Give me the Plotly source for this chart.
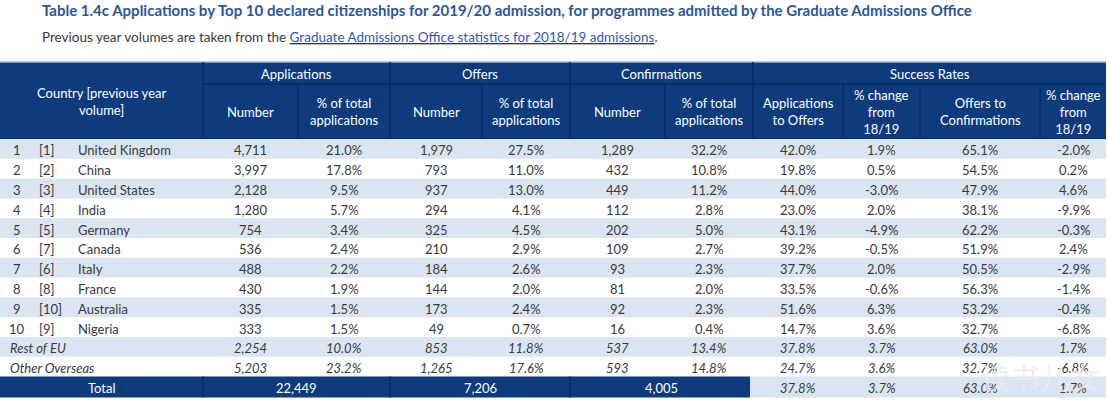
import plotly.graph_objects as go

W, H = 1108, 406

title = "Table 1.4c Applications by Top 10 declared citizenships for 2019/20 admission, for programmes admitted by the Graduate Admissions Office"
subtitle_pre = "Previous year volumes are taken from the "
subtitle_link = "Graduate Admissions Office statistics for 2018/19 admissions"

groups = ["Applications", "Offers", "Confirmations", "Success Rates"]
subheaders = ["Number", "% of total<br>applications", "Number", "% of total<br>applications",
              "Number", "% of total<br>applications", "Applications<br>to Offers",
              "% change<br>from<br>18/19", "Offers to<br>Confirmations", "% change<br>from<br>18/19"]

ranks = ["1", "2", "3", "4", "5", "6", "7", "8", "9", "10"]
prev_ranks = ["[1]", "[2]", "[3]", "[4]", "[5]", "[7]", "[6]", "[8]", "[10]", "[9]"]
countries = ["United Kingdom", "China", "United States", "India", "Germany", "Canada",
             "Italy", "France", "Australia", "Nigeria"]
extra_rows = ["Rest of EU", "Other Overseas"]

applications = ["4,711", "3,997", "2,128", "1,280", "754", "536", "488", "430", "335", "333", "2,254", "5,203"]
applications_pct = ["21.0%", "17.8%", "9.5%", "5.7%", "3.4%", "2.4%", "2.2%", "1.9%", "1.5%", "1.5%", "10.0%", "23.2%"]
offers = ["1,979", "793", "937", "294", "325", "210", "184", "144", "173", "49", "853", "1,265"]
offers_pct = ["27.5%", "11.0%", "13.0%", "4.1%", "4.5%", "2.9%", "2.6%", "2.0%", "2.4%", "0.7%", "11.8%", "17.6%"]
confirmations = ["1,289", "432", "449", "112", "202", "109", "93", "81", "92", "16", "537", "593"]
confirmations_pct = ["32.2%", "10.8%", "11.2%", "2.8%", "5.0%", "2.7%", "2.3%", "2.0%", "2.3%", "0.4%", "13.4%", "14.8%"]
app_to_offers = ["42.0%", "19.8%", "44.0%", "23.0%", "43.1%", "39.2%", "37.7%", "33.5%", "51.6%", "14.7%", "37.8%", "24.7%"]
app_to_offers_chg = ["1.9%", "0.5%", "-3.0%", "2.0%", "-4.9%", "-0.5%", "2.0%", "-0.6%", "6.3%", "3.6%", "3.7%", "3.6%"]
offers_to_conf = ["65.1%", "54.5%", "47.9%", "38.1%", "62.2%", "51.9%", "50.5%", "56.3%", "53.2%", "32.7%", "63.0%", "32.7%"]
offers_to_conf_chg = ["-2.0%", "0.2%", "4.6%", "-9.9%", "-0.3%", "2.4%", "-2.9%", "-1.4%", "-0.4%", "-6.8%", "1.7%", "-6.8%"]

total_label = "Total"
totals = ["22,449", "7,206", "4,005"]
total_rates = ["37.8%", "3.7%", "63.0%", "1.7%"]
watermark = "读书儿女"

# layout geometry (pixels)
col_edges = [0, 203, 298, 390, 482, 570, 665, 753, 843, 920, 1040, 1106]
group_spans = [(1, 3), (3, 5), (5, 7), (7, 11)]
hdr_top, hdr_mid, hdr_bot = 62, 84, 139
row_h = 19.8
tot_top = hdr_bot + row_h * 12
tot_bot = tot_top + 21

NAVY = "#0d3b7b"
LINE = "#082c60"
LIGHT = "#dbe5f1"
TXT = "#3a3a3a"
FONT = "Lato"
FS = 13

shapes, ann = [], []

def rect(x0, y0, x1, y1, fill, line=None, lw=0):
    shapes.append(dict(type="rect", xref="x", yref="y", x0=x0, x1=x1, y0=y0, y1=y1,
                       fillcolor=fill, line=dict(color=line or fill, width=lw), layer="below"))

def line(x0, y0, x1, y1, color=LINE, w=1.5):
    shapes.append(dict(type="line", xref="x", yref="y", x0=x0, x1=x1, y0=y0, y1=y1,
                       line=dict(color=color, width=w), layer="below"))

def text(x, y, s, size=FS, color=TXT, xanchor="center", bold=False, italic=False, family=FONT):
    if bold:
        s = "<b>" + s + "</b>"
    if italic:
        s = "<i>" + s + "</i>"
    ann.append(dict(x=x, y=y, xref="x", yref="y", text=s, showarrow=False, xanchor=xanchor,
                    yanchor="middle", font=dict(size=size, color=color, family=family)))

# titles
text(40, 10, title, size=15, color="#2b5797", xanchor="left", bold=True)
text(40, 37, subtitle_pre + "<u><span style='color:#3355bb'>" + subtitle_link + "</span></u>.",
     size=13.5, color="#3a3a3a", xanchor="left")

# header
rect(col_edges[0], hdr_top, col_edges[-1], hdr_bot, NAVY)
line(col_edges[0], hdr_top, col_edges[-1], hdr_top, "#9fb6d8", 1.5)
for i in range(1, len(col_edges) - 1):
    is_group_edge = any(i == a for a, b in group_spans) or i == 1
    line(col_edges[i], hdr_top if is_group_edge else hdr_mid, col_edges[i], hdr_bot)
line(col_edges[1], hdr_mid, col_edges[-1], hdr_mid)
line(col_edges[0], hdr_bot, col_edges[-1], hdr_bot)
text((col_edges[0] + col_edges[1]) / 2, (hdr_top + hdr_bot) / 2 + 1,
     "Country [previous year<br>volume]", color="white")
for g, (a, b) in zip(groups, group_spans):
    text((col_edges[a] + col_edges[b]) / 2, (hdr_top + hdr_mid) / 2 + 1, g, color="white")
for j, s in enumerate(subheaders):
    text((col_edges[j + 1] + col_edges[j + 2]) / 2, (hdr_mid + hdr_bot) / 2, s, color="white")

# data rows
cols = [applications, applications_pct, offers, offers_pct, confirmations, confirmations_pct,
        app_to_offers, app_to_offers_chg, offers_to_conf, offers_to_conf_chg]
labels = list(zip(ranks, prev_ranks, countries)) + [(None, None, e) for e in extra_rows]
for r, lab in enumerate(labels):
    y0 = hdr_bot + r * row_h
    yc = y0 + row_h / 2 + 1.5
    if r % 2 == 0:
        rect(col_edges[0], y0, col_edges[-1], y0 + row_h, LIGHT)
    it = lab[0] is None
    if it:
        text(8, yc, lab[2], italic=True, xanchor="left")
    else:
        text(17, yc, lab[0])
        text(37, yc, lab[1], xanchor="left")
        text(76, yc, lab[2], xanchor="left")
    for j, c in enumerate(cols):
        text((col_edges[j + 1] + col_edges[j + 2]) / 2, yc, c[r], italic=it)

# total row
rect(col_edges[0], tot_top, col_edges[7] - 3, tot_bot, NAVY)
rect(col_edges[7] - 3, tot_top, col_edges[-1], tot_bot, LIGHT)
for e in [1, 3, 5]:
    line(col_edges[e], tot_top, col_edges[e], tot_bot)
tc = (tot_top + tot_bot) / 2 + 1
text((col_edges[0] + col_edges[1]) / 2, tc, total_label, color="white")
for v, (a, b) in zip(totals, group_spans[:3]):
    text((col_edges[a] + col_edges[b]) / 2, tc, v, color="white")
for j, v in enumerate(total_rates):
    text((col_edges[7 + j] + col_edges[8 + j]) / 2, tc, v, italic=True)

# watermark
text(1040, 376, watermark, size=30, color="rgba(235,235,240,0.8)", family="Noto Sans CJK SC")

fig = go.Figure()
fig.update_layout(
    width=W, height=H, margin=dict(l=0, r=0, t=0, b=0),
    paper_bgcolor="white", plot_bgcolor="white",
    xaxis=dict(range=[0, W], visible=False, fixedrange=True),
    yaxis=dict(range=[H, 0], visible=False, fixedrange=True),
    shapes=shapes, annotations=ann, showlegend=False,
)
fig.write_html("out.html", config={"displayModeBar": False},
               post_script="document.body.style.margin='0px';document.body.style.overflow='hidden';")
